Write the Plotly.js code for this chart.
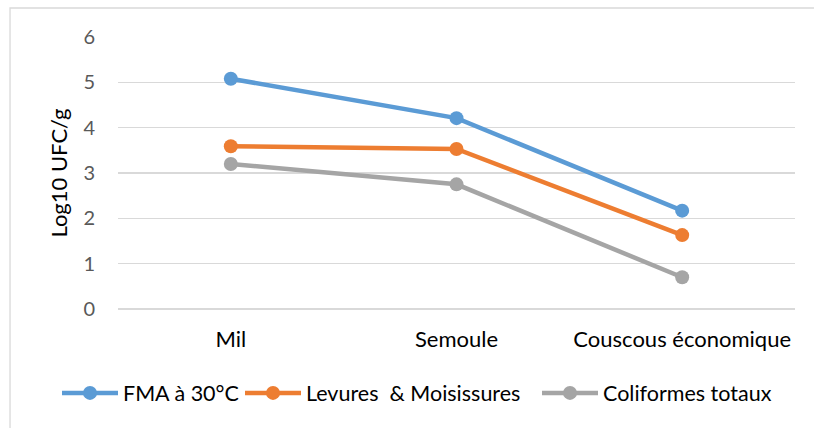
<!DOCTYPE html>
<html><head><meta charset="utf-8">
<script src="https://cdn.plot.ly/plotly-3.0.1.min.js"></script>
<style>html,body{margin:0;padding:0;background:#fff;}#c{width:814px;height:428px;}</style>
</head><body><div id="c"></div>
<script>
const categories = ["Mil", "Semoule", "Couscous économique"];
const seriesNames = ["FMA à 30°C", "Levures  & Moisissures", "Coliformes totaux"];
const fma = [5.08, 4.21, 2.17];
const levures = [3.59, 3.53, 1.63];
const coliformes = [3.2, 2.75, 0.7];
const yTicks = [0, 1, 2, 3, 4, 5, 6];
const colors = ["#5B9BD5", "#ED7D31", "#A5A5A5"];

const values = [fma, levures, coliformes];
const legendIds = ["legend", "legend2", "legend3"];
const traces = values.map((v, i) => ({
  x: categories, y: v, name: seriesNames[i], type: "scatter", mode: "lines+markers",
  legend: legendIds[i],
  line: {color: colors[i], width: 4.5}, marker: {color: colors[i], size: 14}
}));

const legendLeft = [57, 240, 537];
const legendStyle = (px) => ({orientation: "h", xref: "container", yref: "container",
  x: px / 814, xanchor: "left", y: 0.082, yanchor: "middle",
  font: {size: 21.5, color: "#000"}, itemwidth: 56, bgcolor: "rgba(0,0,0,0)"});

const layout = {
  width: 814, height: 428,
  margin: {l: 118, r: 19, t: 37, b: 119},
  paper_bgcolor: "#fff", plot_bgcolor: "#fff",
  font: {family: "Lato, Carlito, Calibri, sans-serif", size: 19, color: "#595959"},
  showlegend: true,
  legend: legendStyle(legendLeft[0]),
  legend2: legendStyle(legendLeft[1]),
  legend3: legendStyle(legendLeft[2]),
  xaxis: {type: "category", range: [-0.5, 2.5], showgrid: false, zeroline: false, showline: false,
    ticks: "", ticklabelstandoff: 15, tickfont: {size: 22, color: "#000"}},
  yaxis: {range: [0, 6], tickvals: yTicks, showgrid: true, gridcolor: "#D9D9D9", gridwidth: 1.3,
    zeroline: true, zerolinecolor: "#D9D9D9", zerolinewidth: 1.3, showline: false, ticks: "",
    ticklabelstandoff: 22,
    tickfont: {size: 20, color: "#595959"},
    title: {text: "Log10 UFC/g", font: {size: 22, color: "#000"}, standoff: 9}},
  shapes: [{type: "path", xref: "paper", yref: "paper",
    path: "M -0.1595,-0.4375 L -0.1595,1.1066 L 1.028,1.1066",
    line: {color: "#D9D9D9", width: 1.3}}]
};
Plotly.newPlot("c", traces, layout, {displayModeBar: false, staticPlot: true});
</script></body></html>
